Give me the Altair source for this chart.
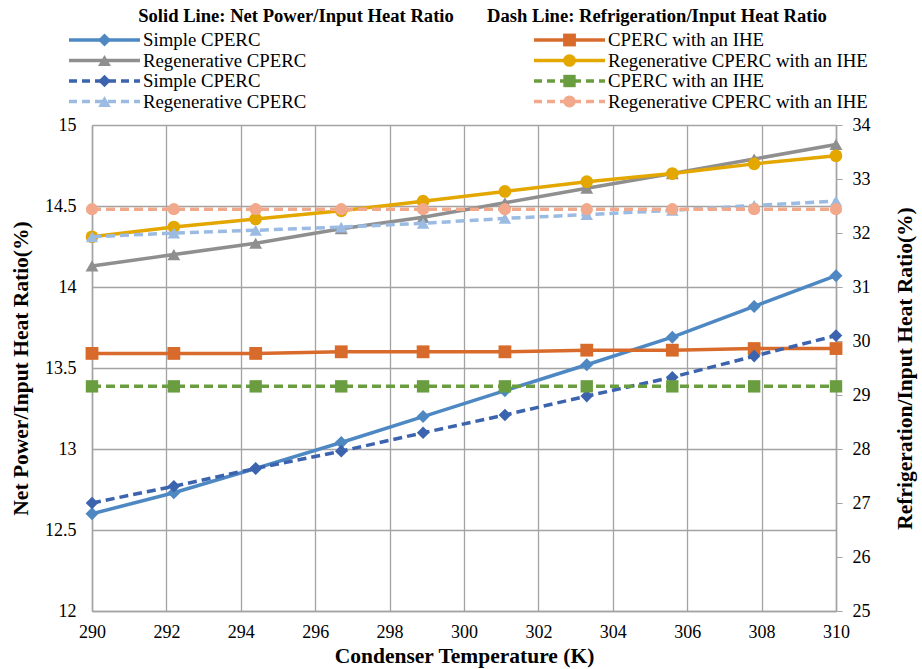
import altair as alt
import pandas as pd

# ---- data ----
temps = [290.0, 292.2, 294.4, 296.7, 298.9, 301.1, 303.3, 305.6, 307.8, 310.0]

series_names = ["Simple CPERC", "Regenerative CPERC", "CPERC with an IHE", "Regenerative CPERC with an IHE"]

# Net power / input heat ratio (%), left axis (solid lines)
net_simple = [12.60, 12.73, 12.88, 13.04, 13.20, 13.36, 13.52, 13.69, 13.88, 14.07]
net_regen = [14.13, 14.20, 14.27, 14.36, 14.43, 14.52, 14.61, 14.70, 14.79, 14.88]
net_ihe = [13.59, 13.59, 13.59, 13.60, 13.60, 13.60, 13.61, 13.61, 13.62, 13.62]
net_regen_ihe = [14.31, 14.37, 14.42, 14.47, 14.53, 14.59, 14.65, 14.70, 14.76, 14.81]

# Refrigeration / input heat ratio (%), right axis (dashed lines)
ref_simple = [27.00, 27.31, 27.64, 27.96, 28.30, 28.63, 28.98, 29.33, 29.72, 30.10]
ref_regen = [31.93, 32.00, 32.05, 32.11, 32.18, 32.27, 32.34, 32.42, 32.51, 32.59]
ref_ihe = [29.16, 29.16, 29.16, 29.16, 29.16, 29.16, 29.16, 29.16, 29.16, 29.16]
ref_regen_ihe = [32.44, 32.44, 32.44, 32.44, 32.44, 32.44, 32.44, 32.44, 32.44, 32.44]

left_ticks = [12, 12.5, 13, 13.5, 14, 14.5, 15]
right_ticks = [25, 26, 27, 28, 29, 30, 31, 32, 33, 34]
x_ticks = [290, 292, 294, 296, 298, 300, 302, 304, 306, 308, 310]

header_solid = "Solid Line: Net Power/Input Heat Ratio"
header_dash = "Dash Line: Refrigeration/Input Heat Ratio"

# ---- styling ----
FONT = "Liberation Serif"
GRID = "#a3a3a3"
keys = ["s_simple", "s_regen", "s_ihe", "s_regen_ihe", "d_simple", "d_regen", "d_ihe", "d_regen_ihe"]
colors = ["#4e88c3", "#8f8f8f", "#d86b2b", "#e3a700", "#3c63ae", "#9bbbe2", "#6a9d3f", "#f2a98b"]
shapes = ["diamond", "triangle-up", "square", "circle", "diamond", "triangle-up", "square", "circle"]
msizes = [170, 150, 135, 115, 150, 150, 135, 125]
color_scale = alt.Scale(domain=keys, range=colors)
shape_scale = alt.Scale(domain=keys, range=shapes)
size_scale = alt.Scale(domain=keys, range=msizes)

rows = []
for key, vals in zip(keys[:4], [net_simple, net_regen, net_ihe, net_regen_ihe]):
    for t, v in zip(temps, vals):
        rows.append({"key": key, "T": t, "v": v})
df_solid = pd.DataFrame(rows)
rows = []
for key, vals in zip(keys[4:], [ref_simple, ref_regen, ref_ihe, ref_regen_ihe]):
    for t, v in zip(temps, vals):
        rows.append({"key": key, "T": t, "v": v})
df_dash = pd.DataFrame(rows)

W, H = 744, 486
LW = 3.5
DASH = [9, 5]

lab_style = dict(labelFont=FONT, labelFontSize=18, labelColor="black", labelFontWeight="normal")

x_enc = alt.X("T:Q", scale=alt.Scale(domain=[290, 310], nice=False, zero=False),
              axis=alt.Axis(values=x_ticks, title="Condenser Temperature (K)", grid=True,
                            ticks=False, labelPadding=12, titlePadding=4, format="d",
                            labelFlush=False, **lab_style))

y_left = alt.Y("v:Q", scale=alt.Scale(domain=[12, 15], nice=False, zero=False),
               axis=alt.Axis(values=left_ticks, title="Net Power/Input Heat Ratio(%)", grid=True,
                             ticks=False, labelPadding=16, titlePadding=12, labelExpr="datum.value + ''",
                             labelFlush=False, **lab_style))
y_right = alt.Y("v:Q", scale=alt.Scale(domain=[25, 34], nice=False, zero=False),
                axis=alt.Axis(values=right_ticks, orient="right", title="Refrigeration/Input Heat Ratio(%)",
                              grid=False, ticks=True, tickSize=6, tickColor=GRID, labelPadding=10,
                              titlePadding=24, titleAngle=270, titleBaseline="top", format="d",
                              labelFlush=False, **lab_style))

col = alt.Color("key:N", scale=color_scale, legend=None)
shp = alt.Shape("key:N", scale=shape_scale, legend=None)
siz = alt.Size("key:N", scale=size_scale, legend=None)

solid = alt.layer(
    alt.Chart(df_solid).mark_line(strokeWidth=LW).encode(x=x_enc, y=y_left, color=col, detail="key:N"),
    alt.Chart(df_solid).mark_point(filled=True, opacity=1).encode(x=x_enc, y=y_left, color=col, shape=shp, size=siz),
)
dashed = alt.layer(
    alt.Chart(df_dash).mark_line(strokeWidth=LW, strokeDash=DASH).encode(x=x_enc, y=y_right, color=col, detail="key:N"),
    alt.Chart(df_dash).mark_point(filled=True, opacity=1).encode(x=x_enc, y=y_right, color=col, shape=shp, size=siz),
)
main = alt.layer(solid, dashed).resolve_scale(y="independent").properties(width=W, height=H)

# ---- legend panel (positions computed from row / column index) ----
legend_labels = [series_names[0], series_names[1], series_names[2], series_names[3],
                 series_names[0], series_names[1], series_names[2], series_names[3]]
col_of = [0, 0, 1, 1, 0, 0, 1, 1]
row_of = [0, 1, 0, 1, 2, 3, 2, 3]
col_x0 = [-23, 442]
line_len = 71
row_y0, row_dy = 40, 20.5
leg_rows = []
for k, lab, c, r in zip(keys, legend_labels, col_of, row_of):
    x0 = col_x0[c]
    leg_rows.append({"key": k, "label": lab, "x0": x0, "x1": x0 + line_len, "xm": x0 + line_len / 2,
                     "xt": x0 + line_len + 3, "y": row_y0 + r * row_dy,
                     "dash": "dash" if k.startswith("d_") else "solid"})
df_leg = pd.DataFrame(leg_rows)
df_head = pd.DataFrame([{"t": header_solid, "x": 204, "y": 16}, {"t": header_dash, "x": 565, "y": 16}])

px = lambda f: alt.X(f, scale=None, axis=None)
py = lambda f: alt.Y(f, scale=None, axis=None)

leg = alt.layer(
    alt.Chart(df_leg).transform_filter("datum.dash == 'solid'").mark_rule(strokeWidth=LW).encode(
        x=px("x0:Q"), x2="x1:Q", y=py("y:Q"), color=col),
    alt.Chart(df_leg).transform_filter("datum.dash == 'dash'").mark_rule(strokeWidth=LW, strokeDash=[8, 5]).encode(
        x=px("x0:Q"), x2="x1:Q", y=py("y:Q"), color=col),
    alt.Chart(df_leg).mark_point(filled=True, opacity=1).encode(
        x=px("xm:Q"), y=py("y:Q"), color=col, shape=shp, size=siz),
    alt.Chart(df_leg).mark_text(align="left", baseline="middle", font=FONT, fontSize=18.8, color="black").encode(
        x=px("xt:Q"), y=py("y:Q"), text="label:N"),
    alt.Chart(df_head).mark_text(align="center", baseline="middle", font=FONT, fontSize=18.6,
                                 fontWeight="bold", color="black").encode(
        x=px("x:Q"), y=py("y:Q"), text="t:N"),
).properties(width=W, height=125)

chart = alt.vconcat(leg, main, spacing=0, bounds="flush").properties(
    padding={"left": 10, "top": 0, "right": 5, "bottom": 5}, background="white"
).configure(
    font=FONT,
    style={"guide-label": {"font": FONT}, "guide-title": {"font": FONT}},
).configure_view(stroke=None).configure_axis(
    labelFont=FONT, labelFontSize=18, labelColor="black",
    titleFont=FONT, titleFontSize=21.5, titleFontWeight="bold", titleColor="black",
    domainColor=GRID, domainWidth=1.5, gridColor=GRID, gridWidth=1.3,
)

chart.save("out.html", embed_options={"renderer": "svg", "actions": False})
